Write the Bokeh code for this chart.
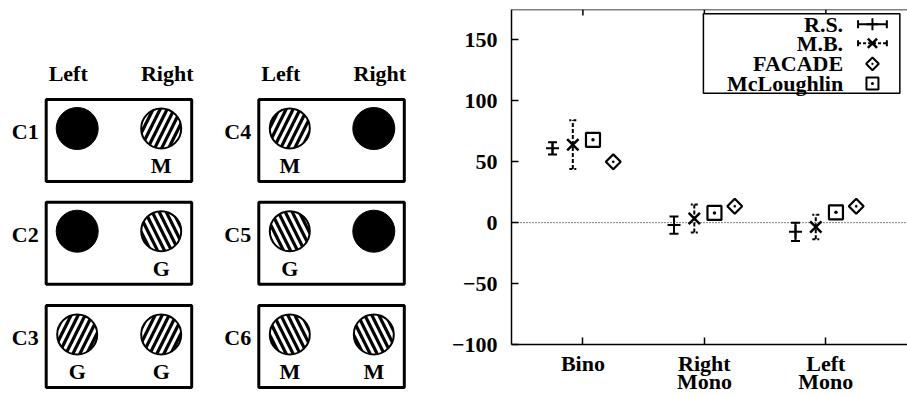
from bokeh.plotting import figure
from bokeh.models import Range1d, FixedTicker, Span, TeeHead, Whisker, ColumnDataSource
from bokeh.layouts import row
from bokeh.embed import file_html
from bokeh.resources import INLINE
from bokeh.core.properties import value

FONT = "Liberation Serif"

# ---------------- data: right panel ----------------
groups = ["Bino", "Right\nMono", "Left\nMono"]
group_pos = [1, 2, 3]
rs_mean = [61, -2, -7.5]
rs_err = [5, 7, 7.5]
mb_mean = [64, 3.5, -3.5]
mb_err = [20, 11.5, 10]
mcl_val = [68, 8, 8.5]
facade_val = [50, 13.5, 13.5]
series_names = ["R.S.", "M.B.", "FACADE", "McLoughlin"]
y_ticks = [-100, -50, 0, 50, 100, 150]

# ---------------- data: left diagram ----------------
cond_names = ["C1", "C2", "C3", "C4", "C5", "C6"]
cond_col = [0, 0, 0, 1, 1, 1]
cond_row = [0, 1, 2, 0, 1, 2]
left_eye = ["black", "black", "/", "/", "\\", "\\"]
right_eye = ["/", "\\", "/", "black", "black", "\\"]
left_tag = ["", "", "G", "M", "G", "M"]
right_tag = ["M", "G", "G", "", "", "M"]
headers = ["Left", "Right"]

W_LEFT, W_RIGHT, H = 448, 459, 397

# ---------------- left figure (diagram) ----------------
L = figure(width=W_LEFT, height=H, x_range=Range1d(0, W_LEFT), y_range=Range1d(H, 0),
           output_backend="svg", toolbar_location=None, min_border=0,
           x_axis_location=None, y_axis_location=None, title=None)
L.frame_align = False
L.grid.visible = False
L.outline_line_color = None

BOX_X0 = [45.7, 258.3]
BOX_Y0 = [99.0, 201.7, 305.0]
BOX_W, BOX_H = 145.5, 82.0
EYE_DX = [31.0, 115.0]
EYE_DY = 29.0
TAG_DY = 66.0
R_BLACK, R_HATCH = 21.0, 20.0

bl, br, bt, bb = [], [], [], []
blk_x, blk_y = [], []
h_x, h_y, h_pat = [], [], []
tag_x, tag_y, tag_t = [], [], []
c_x, c_y = [], []
for i, name in enumerate(cond_names):
    x0 = BOX_X0[cond_col[i]]
    y0 = BOX_Y0[cond_row[i]]
    bl.append(x0); br.append(x0 + BOX_W); bt.append(y0); bb.append(y0 + BOX_H)
    c_x.append(x0 - 21); c_y.append(y0 + 32)
    for k, (eye, tag) in enumerate([(left_eye[i], left_tag[i]), (right_eye[i], right_tag[i])]):
        ex = x0 + EYE_DX[k]
        ey = y0 + EYE_DY
        if eye == "black":
            blk_x.append(ex); blk_y.append(ey)
        else:
            h_x.append(ex); h_y.append(ey); h_pat.append(eye)
        if tag:
            tag_x.append(ex); tag_y.append(y0 + TAG_DY); tag_t.append(tag)

L.quad(left=bl, right=br, top=bt, bottom=bb, fill_color=None, line_color="black", line_width=3)
L.circle(x=blk_x, y=blk_y, radius=R_BLACK, fill_color="black", line_color="black")
L.circle(source=ColumnDataSource(dict(x=h_x, y=h_y, pat=h_pat)), x="x", y="y", radius=R_HATCH,
         fill_color="white", line_color="black", line_width=2,
         hatch_pattern="pat", hatch_color="black", hatch_weight=3.2, hatch_scale=14)

txt_kw = dict(text_font=value(FONT), text_font_style="bold", text_color="black",
              text_align="center", text_baseline="middle")
L.text(x=c_x, y=c_y, text=cond_names, text_font_size="22px", **txt_kw)
L.text(x=tag_x, y=tag_y, text=tag_t, text_font_size="22px", **txt_kw)
hx, hy, ht = [], [], []
for x0 in BOX_X0:
    for k, h in enumerate(headers):
        hx.append(x0 + [22, 121][k]); hy.append(72.5); ht.append(h)
L.text(x=hx, y=hy, text=ht, text_font_size="22px", **txt_kw)

# ---------------- right figure (plot) ----------------
X0, X1 = 0.4123, 3.672
Y0, Y1 = -100, 175
P = figure(width=W_RIGHT, height=H, x_range=Range1d(X0, X1), y_range=Range1d(Y0, Y1),
           output_backend="svg", toolbar_location=None, title=None,
           min_border_left=61, min_border_right=0, min_border_top=9, min_border_bottom=48)
P.frame_align = False
P.outline_line_color = None
P.grid.visible = False

for ax in (P.xaxis, P.yaxis):
    ax.axis_line_width = 1.5
    ax.major_tick_line_width = 1.5
    ax.major_tick_in = 7
    ax.major_tick_out = 0
    ax.minor_tick_line_color = None
    ax.major_label_text_font = FONT
    ax.major_label_text_font_style = "bold"
    ax.major_label_text_font_size = "22px"
    ax.major_label_text_color = "black"
P.xaxis.ticker = FixedTicker(ticks=group_pos)
P.xaxis.major_label_overrides = {p: g for p, g in zip(group_pos, groups)}
P.xaxis.major_label_standoff = 6
P.xaxis.major_label_text_line_height = 0.74
P.yaxis.ticker = FixedTicker(ticks=y_ticks)
P.yaxis.major_label_standoff = 14

P.add_layout(Span(location=0, dimension="width", line_dash="1 2", line_width=1, line_color="black"))
P.add_layout(Span(location=Y1, dimension="width", line_width=1.5, line_color="black"))
P.segment(x0=group_pos, x1=group_pos, y0=[Y1] * 3, y1=[Y1 - 5] * 3, line_color="black", line_width=1.5)

offsets = [-0.25, -0.083, 0.083, 0.25]
rs_x = [g + offsets[0] for g in group_pos]
mb_x = [g + offsets[1] for g in group_pos]
mcl_x = [g + offsets[2] for g in group_pos]
fa_x = [g + offsets[3] for g in group_pos]

rs_src = ColumnDataSource(dict(x=rs_x, y=rs_mean,
                               lo=[m - e for m, e in zip(rs_mean, rs_err)],
                               hi=[m + e for m, e in zip(rs_mean, rs_err)]))
mb_src = ColumnDataSource(dict(x=mb_x, y=mb_mean,
                               lo=[m - e for m, e in zip(mb_mean, mb_err)],
                               hi=[m + e for m, e in zip(mb_mean, mb_err)]))

P.add_layout(Whisker(source=rs_src, base="x", lower="lo", upper="hi", dimension="height",
                     line_width=2, line_color="black",
                     upper_head=TeeHead(size=9, line_width=2), lower_head=TeeHead(size=9, line_width=2)))
P.scatter(x="x", y="y", source=rs_src, marker="cross", size=13, line_width=2, line_color="black")

P.add_layout(Whisker(source=mb_src, base="x", lower="lo", upper="hi", dimension="height",
                     line_width=2, line_color="black", line_dash="4 2",
                     upper_head=TeeHead(size=7, line_width=2, line_dash="3 2"),
                     lower_head=TeeHead(size=7, line_width=2, line_dash="3 2")))
P.scatter(x="x", y="y", source=mb_src, marker="x", size=16, line_width=2.5, line_color="black")

P.scatter(x=mcl_x, y=mcl_val, marker="square_dot", size=14, line_width=2.2,
          line_color="black", fill_color=None)
P.scatter(x=fa_x, y=facade_val, marker="square_dot", angle=0.7854, size=10.5, line_width=2.2,
          line_color="black", fill_color=None)

# ---- legend (text left, sample right, gnuplot style) ----
LEG_L, LEG_R, LEG_T, LEG_B = 1.992, 3.609, 171.5, 106.3
leg_rows = [162.9, 147.3, 130.4, 114.2]
TXT_X = 3.142
S_L, S_R = 3.265, 3.502
S_C = (S_L + S_R) / 2
P.quad(left=[LEG_L], right=[LEG_R], top=[LEG_T], bottom=[LEG_B], fill_color="white",
       line_color="black", line_width=1.5)
P.text(x=[TXT_X] * 4, y=leg_rows, text=series_names, text_font=value(FONT),
       text_font_style="bold", text_font_size="22px", text_align="right",
       text_baseline="middle", text_color="black")
# R.S. sample
P.segment(x0=[S_L], x1=[S_R], y0=[leg_rows[0]], y1=[leg_rows[0]], line_width=2, line_color="black")
P.scatter(x=[S_L, S_R], y=[leg_rows[0]] * 2, marker="dash", angle=1.5708, size=8, line_width=2, line_color="black")
P.scatter(x=[S_C], y=[leg_rows[0]], marker="cross", size=12, line_width=2, line_color="black")
# M.B. sample
P.segment(x0=[S_L], x1=[S_R], y0=[leg_rows[1]], y1=[leg_rows[1]], line_width=2, line_color="black",
          line_dash="3 2")
P.scatter(x=[S_L, S_R], y=[leg_rows[1]] * 2, marker="dash", angle=1.5708, size=6, line_width=2, line_color="black")
P.scatter(x=[S_C], y=[leg_rows[1]], marker="x", size=13, line_width=2.5, line_color="black")
# FACADE sample
P.scatter(x=[S_C], y=[leg_rows[2]], marker="square_dot", angle=0.7854, size=9, line_width=2,
          line_color="black", fill_color=None)
# McLoughlin sample
P.scatter(x=[S_C], y=[leg_rows[3]], marker="square_dot", size=12, line_width=2, line_color="black", fill_color=None)

layout = row(L, P)
open("out.html", "w").write(file_html(layout, INLINE))
